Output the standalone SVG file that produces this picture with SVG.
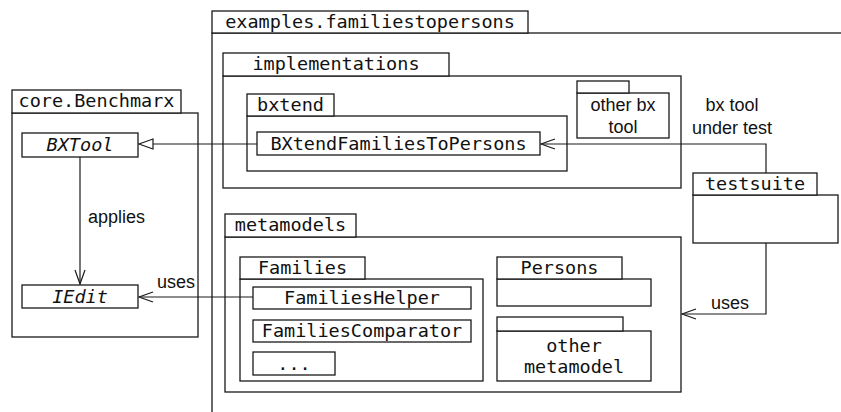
<svg xmlns="http://www.w3.org/2000/svg" width="841" height="412" viewBox="0 0 841 412">
<defs>
<marker id="open" viewBox="0 0 16 12" refX="15" refY="6" markerWidth="16" markerHeight="12" markerUnits="userSpaceOnUse" orient="auto">
<path d="M1,1 L15,6 L1,11" fill="none" stroke="#1a1a1a" stroke-width="1.2"/>
</marker>
<marker id="tri" viewBox="0 0 16 12" refX="15" refY="6" markerWidth="16" markerHeight="12" markerUnits="userSpaceOnUse" orient="auto">
<path d="M1,1 L15,6 L1,11 Z" fill="#fff" stroke="#1a1a1a" stroke-width="1.2"/>
</marker>
</defs>
<style>
rect{fill:#fff;stroke:#1a1a1a;stroke-width:1.3}
.m{font-family:"DejaVu Sans Mono","Liberation Mono",monospace;font-size:18.5px;fill:#111;text-anchor:middle}
.mi{font-family:"DejaVu Sans Mono","Liberation Mono",monospace;font-size:18.5px;font-style:italic;fill:#111;text-anchor:middle}
.s{font-family:"Liberation Sans",Arial,sans-serif;font-size:18px;fill:#111}
.c{text-anchor:middle}
.e{fill:none;stroke:#1a1a1a;stroke-width:1.2}
</style>
<rect width="841" height="412" style="fill:#fff;stroke:none"/>

<g id="examples">
<rect x="212" y="33" width="700" height="420"/>
<rect x="212" y="11" width="316" height="22"/>
<text class="m" x="370" y="28">examples.familiestopersons</text>
</g>

<g id="core-benchmarx">
<rect x="12" y="113" width="186" height="224"/>
<rect x="12" y="90" width="169" height="23"/>
<text class="m" x="96.5" y="107">core.Benchmarx</text>
</g>

<g id="bxtool">
<rect x="22" y="133" width="116" height="24"/>
<text class="mi" x="80" y="151">BXTool</text>
</g>

<g id="iedit">
<rect x="22" y="285" width="116" height="23"/>
<text class="mi" x="80" y="303">IEdit</text>
</g>

<g id="implementations">
<rect x="223" y="76" width="458" height="112"/>
<rect x="223" y="53" width="226" height="23"/>
<text class="m" x="336" y="70">implementations</text>
</g>

<g id="bxtend">
<rect x="247" y="116" width="320" height="55"/>
<rect x="247" y="94" width="87" height="22"/>
<text class="m" x="290.5" y="111">bxtend</text>
</g>

<g id="bxtend-f2p">
<rect x="257" y="132" width="283" height="23"/>
<text class="m" x="398.5" y="150">BXtendFamiliesToPersons</text>
</g>

<g id="other-bx-tool">
<rect x="577" y="93" width="92" height="45"/>
<rect x="577" y="81" width="52" height="12"/>
<text class="s c" x="623" y="111">other bx</text>
<text class="s c" x="623" y="133">tool</text>
</g>

<g id="testsuite">
<rect x="693" y="195" width="145" height="48"/>
<rect x="693" y="173" width="124" height="22"/>
<text class="m" x="755" y="190">testsuite</text>
</g>

<g id="metamodels">
<rect x="225" y="237" width="456" height="155"/>
<rect x="225" y="214" width="131" height="23"/>
<text class="m" x="290.5" y="231">metamodels</text>
</g>

<g id="families">
<rect x="240" y="279" width="243" height="102"/>
<rect x="240" y="257" width="125" height="22"/>
<text class="m" x="302.5" y="274">Families</text>
</g>

<g id="families-helper">
<rect x="253" y="287" width="218" height="22"/>
<text class="m" x="362" y="304">FamiliesHelper</text>
</g>

<g id="families-comparator">
<rect x="253" y="320" width="218" height="22"/>
<text class="m" x="362" y="337">FamiliesComparator</text>
</g>

<g id="families-more">
<rect x="253" y="352" width="82" height="23"/>
<text class="m" x="294" y="370">...</text>
</g>

<g id="persons">
<rect x="497" y="279" width="154" height="27"/>
<rect x="497" y="257" width="125" height="22"/>
<text class="m" x="559.5" y="274">Persons</text>
</g>

<g id="other-metamodel">
<rect x="497" y="331" width="154" height="50"/>
<rect x="497" y="317" width="126" height="14"/>
<text class="m" x="574" y="352">other</text>
<text class="m" x="574" y="373">metamodel</text>
</g>

<g id="connectors">
<path class="e" d="M257,144 H139" marker-end="url(#tri)"/>
<path class="e" d="M80,157 V284" marker-end="url(#open)"/>
<text class="s" x="88" y="223">applies</text>
<path class="e" d="M253,297 H139" marker-end="url(#open)"/>
<text class="s" x="157" y="288">uses</text>
<path class="e" d="M766,173 V144 H541" marker-end="url(#open)"/>
<text class="s c" x="732" y="111">bx tool</text>
<text class="s c" x="732" y="134">under test</text>
<path class="e" d="M766,243 V314 H682" marker-end="url(#open)"/>
<text class="s" x="711" y="309">uses</text>
</g>
</svg>
